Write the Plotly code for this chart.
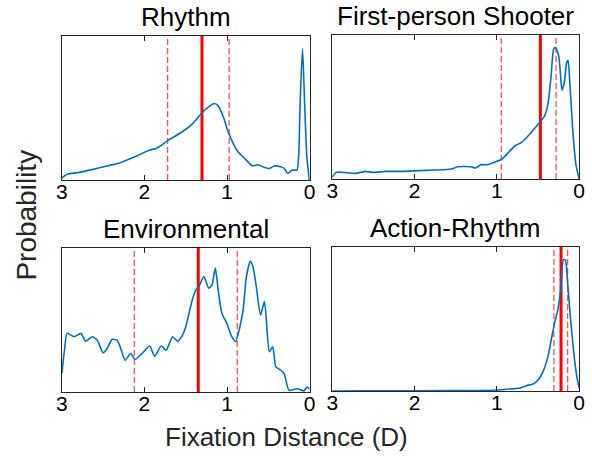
import plotly.graph_objects as go
from plotly.subplots import make_subplots

# fixation distance (D) and relative density
rhythm_d = [3.000, 2.968, 2.929, 2.810, 2.691, 2.493, 2.294, 2.096, 1.938, 1.858, 1.720,
            1.541, 1.423, 1.304, 1.224, 1.153, 1.105, 1.046, 0.987, 0.927, 0.868, 0.788,
            0.689, 0.630, 0.551, 0.491, 0.432, 0.352, 0.313, 0.265, 0.214, 0.154, 0.134,
            0.115, 0.087, 0.063, 0.035, 0.004]
rhythm_p = [0.012, 0.028, 0.042, 0.051, 0.065, 0.092, 0.120, 0.166, 0.208, 0.219, 0.273,
            0.335, 0.388, 0.467, 0.508, 0.531, 0.513, 0.439, 0.335, 0.254, 0.196, 0.150,
            0.097, 0.106, 0.088, 0.079, 0.097, 0.092, 0.083, 0.046, 0.069, 0.069, 0.162,
            0.554, 0.912, 0.554, 0.162, 0.000]

fps_d = [3.000, 2.952, 2.832, 2.713, 2.593, 2.513, 2.354, 2.154, 1.955, 1.755, 1.556,
         1.476, 1.317, 1.257, 1.197, 1.117, 1.037, 0.938, 0.858, 0.778, 0.699, 0.599,
         0.499, 0.471, 0.419, 0.379, 0.339, 0.311, 0.288, 0.248, 0.208, 0.180, 0.152,
         0.135, 0.112, 0.080, 0.040, 0.000]
fps_p = [0.012, 0.046, 0.044, 0.039, 0.053, 0.046, 0.053, 0.053, 0.058, 0.062, 0.069,
         0.085, 0.085, 0.076, 0.099, 0.099, 0.115, 0.139, 0.185, 0.231, 0.254, 0.312,
         0.381, 0.400, 0.439, 0.520, 0.727, 0.901, 0.912, 0.855, 0.617, 0.670, 0.808,
         0.824, 0.658, 0.358, 0.104, 0.000]

env_d = [3.000, 2.968, 2.937, 2.889, 2.849, 2.770, 2.710, 2.631, 2.571, 2.500, 2.452,
         2.393, 2.333, 2.294, 2.234, 2.167, 2.115, 2.036, 1.937, 1.877, 1.798, 1.738,
         1.659, 1.599, 1.540, 1.500, 1.421, 1.373, 1.341, 1.282, 1.222, 1.183, 1.143,
         1.103, 1.063, 1.004, 0.944, 0.897, 0.845, 0.806, 0.766, 0.718, 0.687, 0.647,
         0.595, 0.548, 0.488, 0.448, 0.409, 0.349, 0.310, 0.250, 0.151, 0.071, 0.032,
         0.000]
env_p = [0.128, 0.291, 0.407, 0.395, 0.384, 0.407, 0.353, 0.384, 0.360, 0.272, 0.302,
         0.365, 0.360, 0.314, 0.221, 0.267, 0.226, 0.263, 0.319, 0.249, 0.319, 0.291,
         0.384, 0.353, 0.395, 0.453, 0.640, 0.714, 0.733, 0.802, 0.721, 0.744, 0.860,
         0.686, 0.547, 0.477, 0.384, 0.349, 0.453, 0.570, 0.802, 0.907, 0.872, 0.733,
         0.535, 0.628, 0.279, 0.314, 0.174, 0.151, 0.128, 0.012, 0.023, 0.007, 0.035,
         0.023]

act_d = [3.000, 2.553, 1.955, 1.357, 0.998, 0.838, 0.718, 0.639, 0.559, 0.499, 0.439,
         0.379, 0.339, 0.299, 0.259, 0.220, 0.192, 0.168, 0.140, 0.100, 0.060, 0.028,
         0.000]
act_p = [0.000, 0.001, 0.002, 0.003, 0.007, 0.014, 0.021, 0.037, 0.049, 0.077, 0.135,
         0.239, 0.355, 0.471, 0.564, 0.726, 0.912, 0.912, 0.749, 0.471, 0.239, 0.100,
         0.019]

titles = ['Rhythm', 'First-person Shooter', 'Environmental', 'Action-Rhythm']
medians = [1.304, 0.471, 1.349, 0.220]
lower_q = [1.720, 0.946, 2.123, 0.307]
upper_q = [0.975, 0.280, 0.877, 0.140]

curves = [(rhythm_d, rhythm_p), (fps_d, fps_p), (env_d, env_p), (act_d, act_p)]
cells = [(1, 1), (1, 2), (2, 1), (2, 2)]

W, H = 592, 457
FONT = 'Liberation Sans, Arial, sans-serif'
AX = '#262626'


def px_x(x):
    return x / W


def px_y(y):
    return 1 - y / H


fig = make_subplots(rows=2, cols=2)

for i, ((d, p), (r, c)) in enumerate(zip(curves, cells)):
    for q in (lower_q[i], upper_q[i]):
        fig.add_trace(go.Scatter(x=[q, q], y=[0, 1], mode='lines',
                                 line=dict(color='rgba(255,0,0,0.7)', width=1.3, dash='6px,3px'),
                                 showlegend=False, hoverinfo='skip'), row=r, col=c)
    fig.add_trace(go.Scatter(x=[medians[i], medians[i]], y=[0, 1], mode='lines',
                             line=dict(color='#ff0000', width=3),
                             showlegend=False, hoverinfo='skip'), row=r, col=c)
    fig.add_trace(go.Scatter(x=d, y=p, mode='lines',
                             line=dict(color='#0072BD', width=1.6, shape='spline', smoothing=0.6),
                             showlegend=False), row=r, col=c)

# panel boxes in window pixels: (left, right, top, bottom)
boxes = [(57, 310, 36, 180), (333, 585, 35, 179), (57, 310, 248, 392), (333, 585, 247, 391)]
for i, (x0, x1, y0, y1) in enumerate(boxes):
    sfx = '' if i == 0 else str(i + 1)
    fig.layout['xaxis' + sfx].update(
        domain=[px_x(x0), px_x(x1)], range=[3, 0], tickvals=[0, 1, 2, 3],
        ticks='inside', ticklen=5, tickcolor=AX, showline=True, linecolor=AX, linewidth=1,
        mirror='ticks', showgrid=False, zeroline=False, ticklabelstandoff=-7,
        tickfont=dict(size=21, color='black', family=FONT))
    fig.layout['yaxis' + sfx].update(
        domain=[px_y(y1), px_y(y0)], range=[0, 1], showticklabels=False, ticks='',
        showline=True, linecolor=AX, linewidth=1, mirror=True, showgrid=False, zeroline=False)
    fig.add_annotation(text=titles[i], x=px_x((x0 + x1) / 2), y=px_y(y0 - 19),
                       xref='paper', yref='paper', showarrow=False, xanchor='center', yanchor='middle',
                       font=dict(size=26, color='black', family=FONT))

fig.add_annotation(text='Fixation Distance (D)', x=px_x(286), y=px_y(437), xref='paper', yref='paper',
                   showarrow=False, xanchor='center', yanchor='middle',
                   font=dict(size=26, color='#262626', family=FONT))
fig.add_annotation(text='Probability', x=px_x(20), y=px_y(215), xref='paper', yref='paper',
                   showarrow=False, textangle=-90, xanchor='center', yanchor='middle',
                   font=dict(size=28, color='#262626', family=FONT))

fig.update_layout(width=W, height=H, margin=dict(l=0, r=0, t=0, b=0),
                  plot_bgcolor='white', paper_bgcolor='white', showlegend=False)

# drop the default body margin so the figure fills the window exactly
fig.write_html("out.html", config={'displayModeBar': False},
               post_script="document.body.style.margin='0';document.body.style.overflow='hidden';")
